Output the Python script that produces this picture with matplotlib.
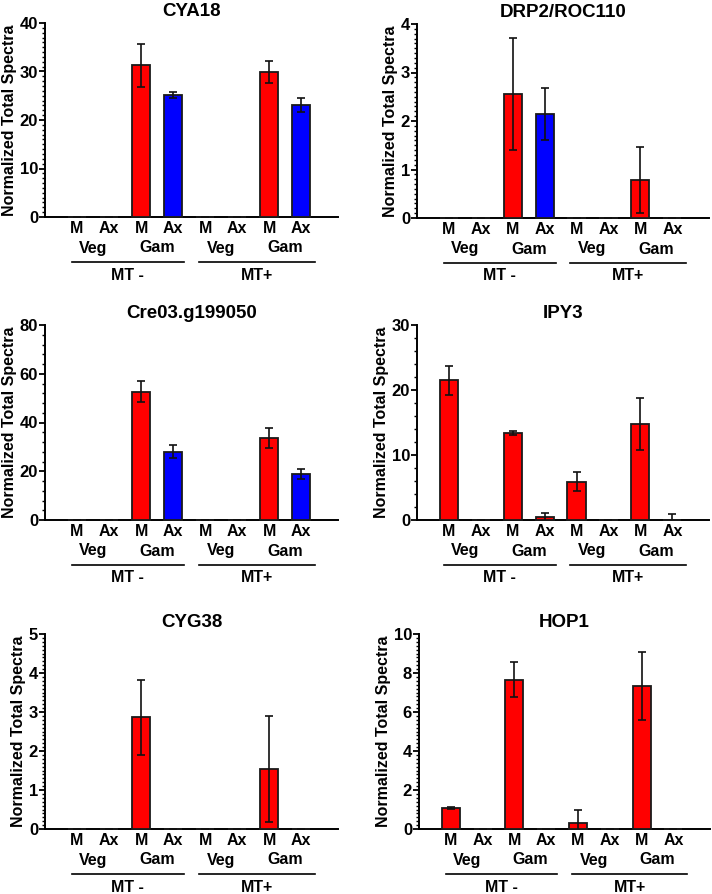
import numpy as np
import matplotlib
matplotlib.use("Agg")
import matplotlib.pyplot as plt
from matplotlib.ticker import MultipleLocator

plt.rcParams['font.family'] = ['Liberation Sans', 'DejaVu Sans']
plt.rcParams['font.weight'] = 'bold'

# bar order: MT- (M Veg, Ax Veg, M Gam, Ax Gam), MT+ (same)
bar_labels = ["M", "Ax", "M", "Ax", "M", "Ax", "M", "Ax"]
stage_labels = ["Veg", "Gam", "Veg", "Gam"]
mt_labels = ["MT -", "MT+"]

titles = ["CYA18", "DRP2/ROC110", "Cre03.g199050", "IPY3", "CYG38", "HOP1"]

cya18_vals = [0, 0, 31.3, 25.1, 0, 0, 29.9, 23.1]
cya18_err = [0, 0, 4.4, 0.6, 0, 0, 2.2, 1.5]

drp2_vals = [0, 0, 2.56, 2.14, 0, 0, 0.78, 0]
drp2_err = [0, 0, 1.16, 0.54, 0, 0, 0.68, 0]

cre03_vals = [0, 0, 52.7, 28.0, 0, 0, 33.6, 18.8]
cre03_err = [0, 0, 4.4, 2.7, 0, 0, 4.0, 2.1]

ipy3_vals = [21.5, 0, 13.35, 0.45, 5.9, 0, 14.7, 0]
ipy3_err = [2.2, 0, 0.3, 0.7, 1.5, 0, 4.0, 0.85]

cyg38_vals = [0, 0, 2.86, 0, 0, 0, 1.54, 0]
cyg38_err = [0, 0, 0.96, 0, 0, 0, 1.37, 0]

hop1_vals = [1.1, 0, 7.65, 0, 0.33, 0, 7.34, 0]
hop1_err = [0.05, 0, 0.9, 0, 0.65, 0, 1.75, 0]

values = [cya18_vals, drp2_vals, cre03_vals, ipy3_vals, cyg38_vals, hop1_vals]
errors = [cya18_err, drp2_err, cre03_err, ipy3_err, cyg38_err, hop1_err]
ymax = [40, 4, 80, 30, 5, 10]
ystep = [10, 1, 20, 10, 1, 2]
yminor = [1, 0.1, 4, 2, 0.1, 0.2]

RED = "#FF0000"
BLUE = "#0000FF"
colors = [
    [RED, RED, RED, BLUE, RED, RED, RED, BLUE],
    [RED, RED, RED, BLUE, RED, RED, RED, BLUE],
    [RED, RED, RED, BLUE, RED, RED, RED, BLUE],
    [RED] * 8,
    [RED] * 8,
    [RED] * 8,
]

W, H = 712, 894
fig = plt.figure(figsize=(W / 100, H / 100), dpi=100)

# axes boxes in pixels: left, top, right, bottom
boxes = [
    (45, 23, 338, 217), (417, 24, 709, 218),
    (45, 325, 338, 520), (417, 325, 709, 520),
    (45, 634, 338, 829), (419, 634, 710, 829),
]

x = np.arange(1, 9)

for i in range(6):
    l, t, r, b = boxes[i]
    ax = fig.add_axes([l / W, 1 - b / H, (r - l) / W, (b - t) / H])
    ax.bar(x, values[i], width=0.57, color=colors[i], edgecolor="#1a1a1a",
           linewidth=1.3, zorder=3, clip_on=False)
    ax.errorbar(x, values[i], yerr=errors[i], fmt="none", ecolor="#111111",
                elinewidth=1.2, capsize=3.2, capthick=1.2, zorder=4)
    ax.set_xlim(0, 9.15)
    ax.set_ylim(0, ymax[i])
    ax.yaxis.set_major_locator(MultipleLocator(ystep[i]))
    ax.yaxis.set_minor_locator(MultipleLocator(yminor[i]))
    for s in ["top", "right"]:
        ax.spines[s].set_visible(False)
    for s in ["left", "bottom"]:
        ax.spines[s].set_linewidth(1.4)
    ax.tick_params(axis="y", which="major", length=4, width=1.3, pad=1,
                   labelsize=12)
    ax.tick_params(axis="y", which="minor", length=2.5, width=1.0)
    ax.set_xticks(x)
    ax.set_xticklabels(bar_labels, fontsize=11.5, fontweight="bold")
    ax.tick_params(axis="x", length=0, pad=3)
    for lab in ax.get_yticklabels():
        lab.set_fontweight("bold")
    ax.set_title(titles[i], fontsize=13.5, fontweight="bold", pad=5)
    ax.set_ylabel("Normalized Total Spectra", fontsize=11.5, fontweight="bold",
                  labelpad=2)

    trans = ax.get_xaxis_transform()
    hgt = b - t
    for j, st in enumerate(stage_labels):
        ax.text(1.5 + 2 * j, -31 / hgt, st, transform=trans, ha="center",
                va="center", fontsize=11.5, fontweight="bold")
    spans = [(0.84, 4.34), (4.81, 8.44)]
    for (x0, x1), mt in zip(spans, mt_labels):
        ax.plot([x0, x1], [-45 / hgt, -45 / hgt], transform=trans, color="black",
                linewidth=1.2, clip_on=False)
        ax.text((x0 + x1) / 2, -58 / hgt, mt, transform=trans, ha="center",
                va="center", fontsize=11.5, fontweight="bold")

fig.savefig("out.png", dpi=100)
